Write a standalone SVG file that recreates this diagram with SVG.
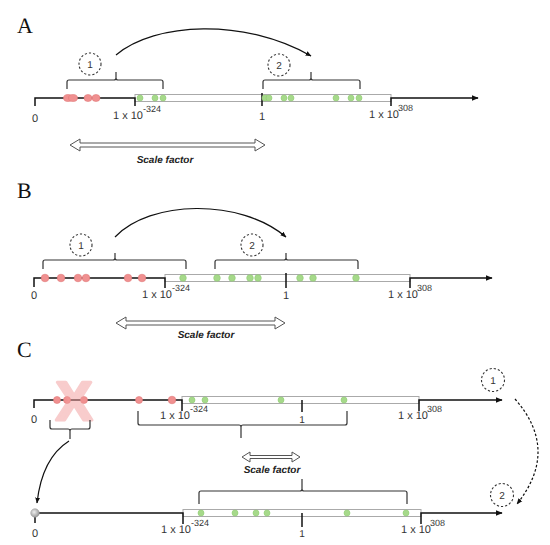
<svg xmlns="http://www.w3.org/2000/svg" width="550" height="545" viewBox="0 0 550 545">
<defs>
<marker id="ah" viewBox="0 0 10 10" refX="9" refY="5" markerWidth="7" markerHeight="7" orient="auto" markerUnits="userSpaceOnUse"><path d="M0,1 L10,5 L0,9 Z" fill="#111"/></marker>
<marker id="ahs" viewBox="0 0 10 10" refX="9" refY="5" markerWidth="6" markerHeight="6" orient="auto" markerUnits="userSpaceOnUse"><path d="M0,1 L10,5 L0,9 Z" fill="#111"/></marker>
<radialGradient id="ball" cx="0.4" cy="0.4" r="0.6"><stop offset="0" stop-color="#eee"/><stop offset="1" stop-color="#999"/></radialGradient>
</defs>
<style>
.ax{stroke:#111;stroke-width:1.5;fill:none}
.tk{stroke:#111;stroke-width:1.5;fill:none}
.bar{fill:#fff;stroke:#aaa;stroke-width:1}
.br{stroke:#333;stroke-width:1.2;fill:none}
.r{fill:#f09090;stroke:#e07a7a;stroke-width:0.6}
.g{fill:#a6d98a;stroke:#8fcc72;stroke-width:0.6}
text{text-rendering:geometricPrecision}
.lb{font-family:"Liberation Sans",Arial,sans-serif;font-size:11px;fill:#333}
.sup{font-family:"Liberation Sans",Arial,sans-serif;font-size:9px;fill:#333}
.pl{font-family:"Liberation Serif","Times New Roman",serif;font-size:22px;fill:#111}
.sf{font-family:"Liberation Sans",Arial,sans-serif;font-size:10px;font-weight:bold;font-style:italic;fill:#222}
.dc{fill:none;stroke:#333;stroke-width:1.1;stroke-dasharray:2.2,2}
.num{font-family:"Liberation Sans",Arial,sans-serif;font-size:10px;fill:#333}
.dbl{fill:#fff;stroke:#555;stroke-width:1}
.cv{fill:none;stroke:#111;stroke-width:1.2}
</style>
<rect width="550" height="545" fill="#fff"/>

<g id="panelA">
<text class="pl" x="17" y="33">A</text>
<rect class="bar" x="135" y="94.5" width="256" height="7"/>
<path class="ax" d="M35,106 L35,98 L135,98 L135,106"/>
<path class="ax" d="M391,106 L391,98 L478,98" marker-end="url(#ah)"/>
<line class="tk" x1="262" y1="93" x2="262" y2="106"/>
<ellipse class="r" cx="68" cy="98" rx="4.5" ry="3.5"/><ellipse class="r" cx="73" cy="98" rx="4.5" ry="3.5"/>
<ellipse class="r" cx="88" cy="98" rx="4" ry="3.5"/><ellipse class="r" cx="96" cy="98" rx="4" ry="3.5"/>
<g>
<circle class="g" cx="140" cy="98" r="3"/><circle class="g" cx="155" cy="98" r="3"/><circle class="g" cx="163" cy="98" r="3"/>
<circle class="g" cx="265" cy="98" r="3"/><circle class="g" cx="269" cy="98" r="3"/><circle class="g" cx="284" cy="98" r="3"/><circle class="g" cx="291" cy="98" r="3"/>
<circle class="g" cx="336" cy="98" r="3"/><circle class="g" cx="351" cy="98" r="3"/><circle class="g" cx="359" cy="98" r="3"/>
</g>
<text class="lb" x="35" y="122" text-anchor="middle">0</text>
<text class="lb" x="113" y="119">1 x 10</text><text class="sup" x="143" y="112">-324</text>
<text class="lb" x="262" y="120" text-anchor="middle">1</text>
<text class="lb" x="369" y="118">1 x 10</text><text class="sup" x="398" y="111">308</text>
<path class="br" d="M67,89 L67,82 Q67,80 69,80 L114,80 Q116,80 116,78 L116,72 M116,78 Q116,80 118,80 L161,80 Q163,80 163,82 L163,89"/>
<path class="br" d="M263,89 L263,82 Q263,80 265,80 L309,80 Q311,80 311,78 L311,72 M311,78 Q311,80 313,80 L358,80 Q360,80 360,82 L360,89"/>
<circle class="dc" cx="90" cy="64" r="11"/><text class="num" x="90" y="68" text-anchor="middle">1</text>
<circle class="dc" cx="279" cy="65" r="11"/><text class="num" x="279" y="69" text-anchor="middle">2</text>
<path class="cv" d="M116,55 C155,22 245,18 311,56" marker-end="url(#ahs)"/>
<path class="dbl" d="M70,145 L80,139 L80,143 L255,143 L255,139 L265,145 L255,151 L255,147 L80,147 L80,151 Z"/>
<text class="sf" x="165" y="163" text-anchor="middle">Scale factor</text>
</g>

<g id="panelB">
<text class="pl" x="17" y="198">B</text>
<rect class="bar" x="165" y="274.5" width="245" height="7"/>
<path class="ax" d="M34,287 L34,278 L165,278 L165,288"/>
<path class="ax" d="M410,288 L410,278 L492,278" marker-end="url(#ah)"/>
<line class="tk" x1="286" y1="273" x2="286" y2="288"/>
<circle class="r" cx="45" cy="278" r="3.8"/><circle class="r" cx="61" cy="278" r="3.8"/><circle class="r" cx="78" cy="278" r="3.8"/><circle class="r" cx="86" cy="278" r="3.8"/><circle class="r" cx="128" cy="278" r="3.8"/><circle class="r" cx="142" cy="278" r="3.8"/>
<circle class="g" cx="183" cy="278" r="3.3"/><circle class="g" cx="217" cy="278" r="3.3"/><circle class="g" cx="232" cy="278" r="3.3"/><circle class="g" cx="250" cy="278" r="3.3"/><circle class="g" cx="258" cy="278" r="3.3"/><circle class="g" cx="300" cy="278" r="3.3"/><circle class="g" cx="313" cy="278" r="3.3"/><circle class="g" cx="356" cy="278" r="3.3"/>
<text class="lb" x="34" y="299" text-anchor="middle">0</text>
<text class="lb" x="142" y="298">1 x 10</text><text class="sup" x="172" y="291">-324</text>
<text class="lb" x="286" y="299" text-anchor="middle">1</text>
<text class="lb" x="388" y="298">1 x 10</text><text class="sup" x="417" y="291">308</text>
<path class="br" d="M43,269 L43,262 Q43,260 45,260 L113,260 Q115,260 115,258 L115,253 M115,258 Q115,260 117,260 L184,260 Q186,260 186,262 L186,269"/>
<path class="br" d="M215,269 L215,262 Q215,260 217,260 L284,260 Q286,260 286,258 L286,253 M286,258 Q286,260 288,260 L356,260 Q358,260 358,262 L358,269"/>
<circle class="dc" cx="81" cy="245" r="11"/><text class="num" x="81" y="249" text-anchor="middle">1</text>
<circle class="dc" cx="252" cy="245" r="11"/><text class="num" x="252" y="249" text-anchor="middle">2</text>
<path class="cv" d="M115,237 C150,200 240,198 286,237" marker-end="url(#ahs)"/>
<path class="dbl" d="M116,323 L126,317 L126,321 L275,321 L275,317 L285,323 L275,329 L275,325 L126,325 L126,329 Z"/>
<text class="sf" x="206" y="338" text-anchor="middle">Scale factor</text>
</g>

<g id="panelC">
<text class="pl" x="17" y="357">C</text>
<rect class="bar" x="182" y="396.5" width="237" height="7"/>
<path class="ax" d="M34,408 L34,400 L182,400 L182,411"/>
<path class="ax" d="M419,411 L419,400 L502,400" marker-end="url(#ah)"/>
<line class="tk" x1="302" y1="400" x2="302" y2="412"/>
<circle class="r" cx="57" cy="400" r="3.5"/><circle class="r" cx="67" cy="400" r="3.5"/><circle class="r" cx="84" cy="400" r="3.5"/><circle class="r" cx="139" cy="400" r="3.5"/><circle class="r" cx="172" cy="400" r="3.8"/>
<g opacity="0.5"><text x="74" y="420" text-anchor="middle" font-family="Liberation Sans, Arial, sans-serif" font-weight="bold" font-size="55" fill="#f29a9a" stroke="#f29a9a" stroke-width="3" stroke-linejoin="round">X</text></g>
<circle class="g" cx="192" cy="400" r="3"/><circle class="g" cx="205" cy="400" r="3"/><circle class="g" cx="281" cy="400" r="3"/><circle class="g" cx="344" cy="400" r="3"/>
<text class="lb" x="34" y="423" text-anchor="middle">0</text>
<text class="lb" x="160" y="419">1 x 10</text><text class="sup" x="190" y="412">-324</text>
<text class="num" x="302" y="423" text-anchor="middle" font-size="9">1</text>
<text class="lb" x="398" y="419">1 x 10</text><text class="sup" x="427" y="412">308</text>
<path class="br" d="M138,411 L138,423 Q138,425 140,425 L239,425 Q241,425 241,427 L241,438 M241,427 Q241,425 243,425 L345,425 Q347,425 347,423 L347,411"/>
<path class="br" d="M50,420 L50,427 Q50,429 52,429 L68,429 Q70,429 70,431 L70,439 M70,431 Q70,429 72,429 L88,429 Q90,429 90,427 L90,420"/>
<path class="cv" d="M69,441 Q42,458 37,503" marker-end="url(#ahs)"/>
<path class="dbl" d="M242,457 L250,452 L250,455.5 L292,455.5 L292,452 L300,457 L292,462 L292,458.5 L250,458.5 L250,462 Z"/>
<text class="sf" x="272" y="473" text-anchor="middle" font-size="9.5">Scale factor</text>
<path class="br" d="M199,504 L199,493 Q199,491 201,491 L300,491 Q302,491 302,489 L302,479 M302,489 Q302,491 304,491 L405,491 Q407,491 407,493 L407,504"/>
<rect class="bar" x="183" y="509.5" width="238" height="7"/>
<path class="ax" d="M35,513 L183,513 L183,524"/>
<path class="ax" d="M421,524 L421,513 L502,513" marker-end="url(#ah)"/>
<line class="tk" x1="35" y1="513" x2="35" y2="523"/>
<circle cx="35" cy="513" r="4.3" fill="url(#ball)" stroke="#999" stroke-width="0.5"/>
<line class="tk" x1="302" y1="513" x2="302" y2="527"/>
<circle class="g" cx="201" cy="513" r="3"/><circle class="g" cx="235" cy="513" r="3"/><circle class="g" cx="256" cy="513" r="3"/><circle class="g" cx="267" cy="513" r="3"/><circle class="g" cx="347" cy="513" r="3"/><circle class="g" cx="406" cy="513" r="3"/>
<text class="lb" x="35" y="537" text-anchor="middle">0</text>
<text class="lb" x="161" y="533">1 x 10</text><text class="sup" x="191" y="526">-324</text>
<text class="num" x="302" y="537" text-anchor="middle" font-size="9">1</text>
<text class="lb" x="401" y="533">1 x 10</text><text class="sup" x="430" y="526">308</text>
<circle class="dc" cx="493" cy="380" r="11.5"/><text class="num" x="493" y="384" text-anchor="middle">1</text>
<circle class="dc" cx="502" cy="495" r="11.5"/><text class="num" x="502" y="499" text-anchor="middle">2</text>
<path d="M515,399 Q560,450 517,504" fill="none" stroke="#111" stroke-width="1.2" stroke-dasharray="2.5,2" marker-end="url(#ahs)"/>
</g>
</svg>
